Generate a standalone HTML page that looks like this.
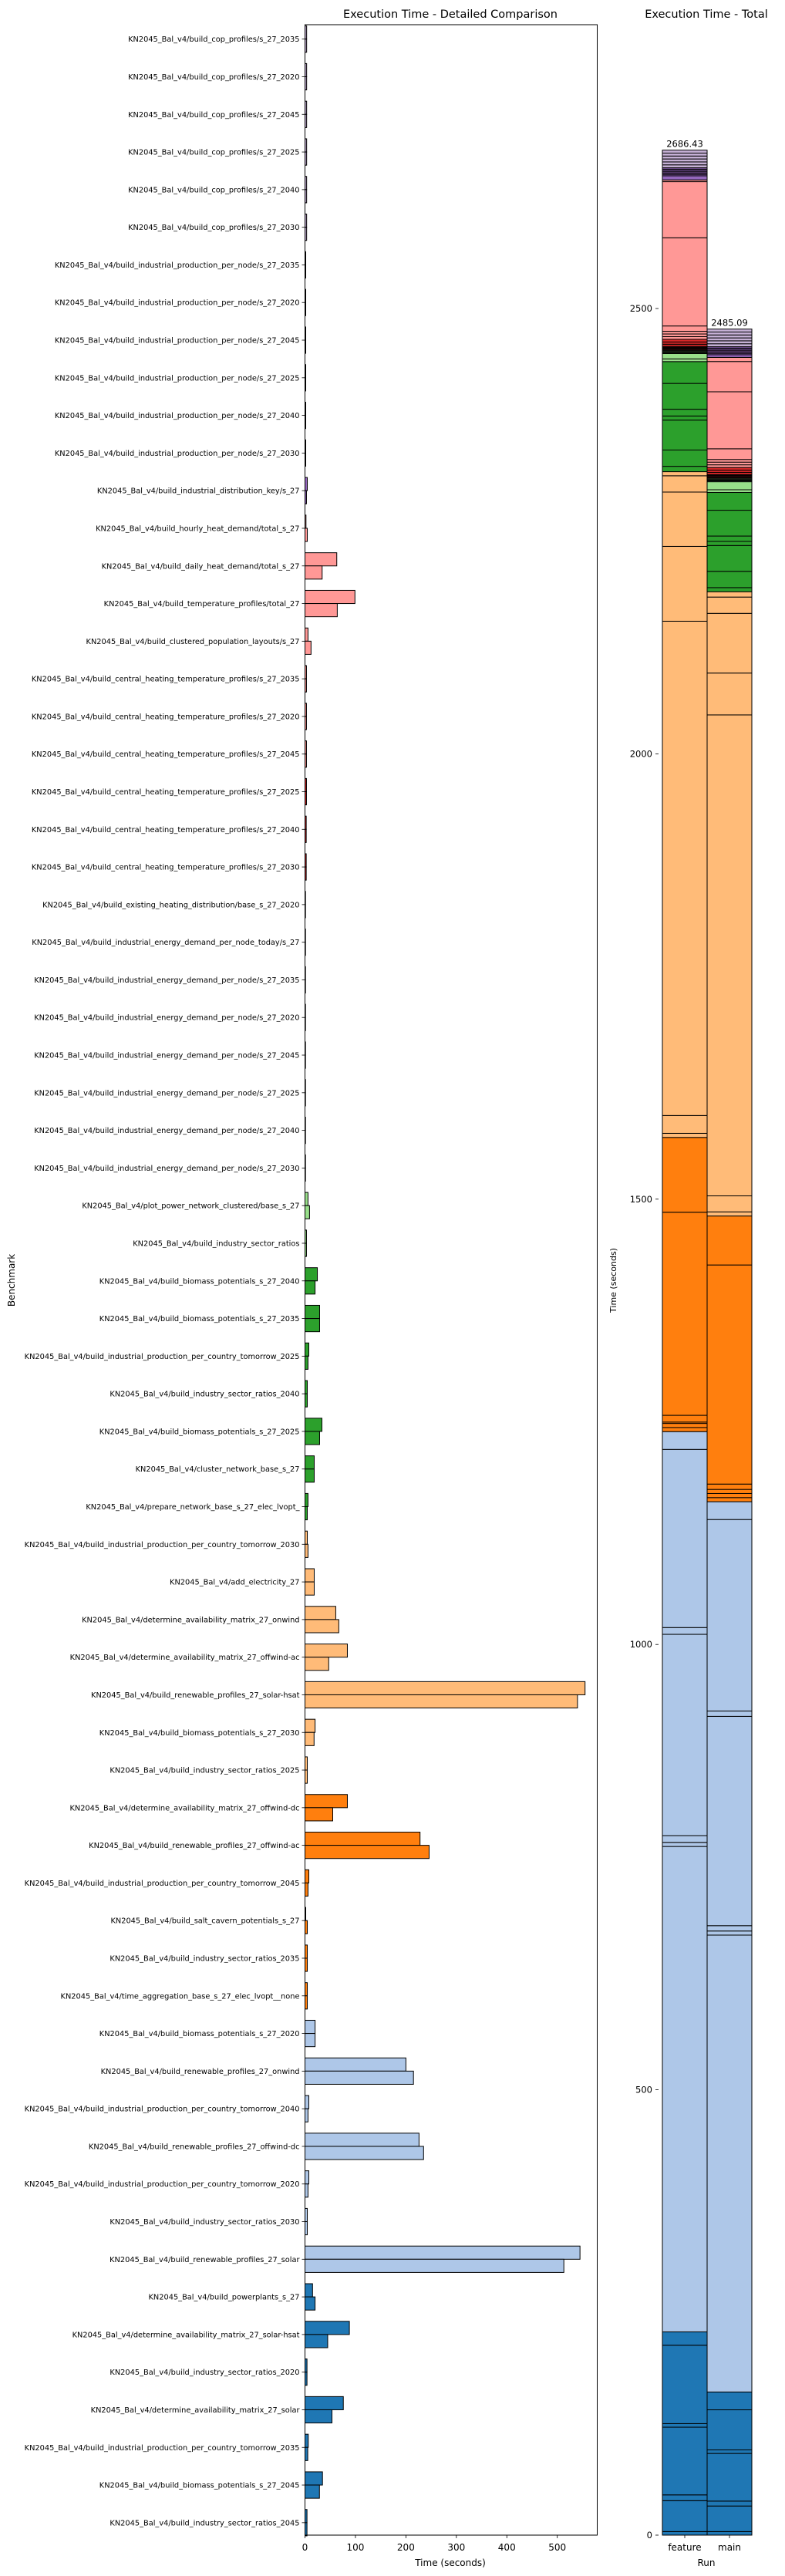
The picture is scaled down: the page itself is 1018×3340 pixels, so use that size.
<!DOCTYPE html>
<html>
<head>
<meta charset="utf-8">
<style>
  html, body { margin: 0; padding: 0; background: #fff; }
  svg { display: block; font-family: "DejaVu Sans", "Liberation Sans", sans-serif; }
</style>
</head>
<body>
<svg id="chart" width="1018" height="3340" viewBox="0 0 1018 3340" xmlns="http://www.w3.org/2000/svg">
  <text x="584" y="23" font-size="14.5" text-anchor="middle">Execution Time - Detailed Comparison</text>
  <text x="916" y="23" font-size="14.5" text-anchor="middle">Execution Time - Total</text>
  <g id="left"></g>
  <g id="right"></g>
  <text x="584" y="3327" font-size="12" text-anchor="middle">Time (seconds)</text>
  <text x="19" y="1660" font-size="12" text-anchor="middle" transform="rotate(-90 19 1660)">Benchmark</text>
  <text x="799" y="1660" font-size="11" text-anchor="middle" transform="rotate(-90 799 1660)">Time (seconds)</text>
  <text x="916" y="3327" font-size="12" text-anchor="middle">Run</text>
</svg>
<script>
const categories = [
"KN2045_Bal_v4/build_cop_profiles/s_27_2035",
"KN2045_Bal_v4/build_cop_profiles/s_27_2020",
"KN2045_Bal_v4/build_cop_profiles/s_27_2045",
"KN2045_Bal_v4/build_cop_profiles/s_27_2025",
"KN2045_Bal_v4/build_cop_profiles/s_27_2040",
"KN2045_Bal_v4/build_cop_profiles/s_27_2030",
"KN2045_Bal_v4/build_industrial_production_per_node/s_27_2035",
"KN2045_Bal_v4/build_industrial_production_per_node/s_27_2020",
"KN2045_Bal_v4/build_industrial_production_per_node/s_27_2045",
"KN2045_Bal_v4/build_industrial_production_per_node/s_27_2025",
"KN2045_Bal_v4/build_industrial_production_per_node/s_27_2040",
"KN2045_Bal_v4/build_industrial_production_per_node/s_27_2030",
"KN2045_Bal_v4/build_industrial_distribution_key/s_27",
"KN2045_Bal_v4/build_hourly_heat_demand/total_s_27",
"KN2045_Bal_v4/build_daily_heat_demand/total_s_27",
"KN2045_Bal_v4/build_temperature_profiles/total_27",
"KN2045_Bal_v4/build_clustered_population_layouts/s_27",
"KN2045_Bal_v4/build_central_heating_temperature_profiles/s_27_2035",
"KN2045_Bal_v4/build_central_heating_temperature_profiles/s_27_2020",
"KN2045_Bal_v4/build_central_heating_temperature_profiles/s_27_2045",
"KN2045_Bal_v4/build_central_heating_temperature_profiles/s_27_2025",
"KN2045_Bal_v4/build_central_heating_temperature_profiles/s_27_2040",
"KN2045_Bal_v4/build_central_heating_temperature_profiles/s_27_2030",
"KN2045_Bal_v4/build_existing_heating_distribution/base_s_27_2020",
"KN2045_Bal_v4/build_industrial_energy_demand_per_node_today/s_27",
"KN2045_Bal_v4/build_industrial_energy_demand_per_node/s_27_2035",
"KN2045_Bal_v4/build_industrial_energy_demand_per_node/s_27_2020",
"KN2045_Bal_v4/build_industrial_energy_demand_per_node/s_27_2045",
"KN2045_Bal_v4/build_industrial_energy_demand_per_node/s_27_2025",
"KN2045_Bal_v4/build_industrial_energy_demand_per_node/s_27_2040",
"KN2045_Bal_v4/build_industrial_energy_demand_per_node/s_27_2030",
"KN2045_Bal_v4/plot_power_network_clustered/base_s_27",
"KN2045_Bal_v4/build_industry_sector_ratios",
"KN2045_Bal_v4/build_biomass_potentials_s_27_2040",
"KN2045_Bal_v4/build_biomass_potentials_s_27_2035",
"KN2045_Bal_v4/build_industrial_production_per_country_tomorrow_2025",
"KN2045_Bal_v4/build_industry_sector_ratios_2040",
"KN2045_Bal_v4/build_biomass_potentials_s_27_2025",
"KN2045_Bal_v4/cluster_network_base_s_27",
"KN2045_Bal_v4/prepare_network_base_s_27_elec_lvopt_",
"KN2045_Bal_v4/build_industrial_production_per_country_tomorrow_2030",
"KN2045_Bal_v4/add_electricity_27",
"KN2045_Bal_v4/determine_availability_matrix_27_onwind",
"KN2045_Bal_v4/determine_availability_matrix_27_offwind-ac",
"KN2045_Bal_v4/build_renewable_profiles_27_solar-hsat",
"KN2045_Bal_v4/build_biomass_potentials_s_27_2030",
"KN2045_Bal_v4/build_industry_sector_ratios_2025",
"KN2045_Bal_v4/determine_availability_matrix_27_offwind-dc",
"KN2045_Bal_v4/build_renewable_profiles_27_offwind-ac",
"KN2045_Bal_v4/build_industrial_production_per_country_tomorrow_2045",
"KN2045_Bal_v4/build_salt_cavern_potentials_s_27",
"KN2045_Bal_v4/build_industry_sector_ratios_2035",
"KN2045_Bal_v4/time_aggregation_base_s_27_elec_lvopt__none",
"KN2045_Bal_v4/build_biomass_potentials_s_27_2020",
"KN2045_Bal_v4/build_renewable_profiles_27_onwind",
"KN2045_Bal_v4/build_industrial_production_per_country_tomorrow_2040",
"KN2045_Bal_v4/build_renewable_profiles_27_offwind-dc",
"KN2045_Bal_v4/build_industrial_production_per_country_tomorrow_2020",
"KN2045_Bal_v4/build_industry_sector_ratios_2030",
"KN2045_Bal_v4/build_renewable_profiles_27_solar",
"KN2045_Bal_v4/build_powerplants_s_27",
"KN2045_Bal_v4/determine_availability_matrix_27_solar-hsat",
"KN2045_Bal_v4/build_industry_sector_ratios_2020",
"KN2045_Bal_v4/determine_availability_matrix_27_solar",
"KN2045_Bal_v4/build_industrial_production_per_country_tomorrow_2035",
"KN2045_Bal_v4/build_biomass_potentials_s_27_2045",
"KN2045_Bal_v4/build_industry_sector_ratios_2045"
];
const featureValues = [3.3,3.3,3.3,3.3,3.3,3.3, 1.5,1.5,1.5,1.5,1.5,1.5,4.6, 2,63,99,6,3,3,3, 3,2.5,2.5,1,1,1,1, 1,1,1,1,6,3, 24.5,29,7.6,4.6,33.6,18.3,6, 4.6,18.3,61,84,555,20,4.6, 84,228,7.6,1.5,4.6,4.6, 20,200,7.6,226,7.6,4.6,545, 15,88,4,76,6.5,34.7,4];
const mainValues = [3.3,3.3,3.3,3.3,3.3,3.3, 1.5,1.5,1.5,1.5,1.5,1.5,3, 4.6,34,64,12,3,3,3, 3,2.5,2.5,1,1,1,1, 1,1,1,1,9,3, 20,29,6,4.6,29,18.3,4.6, 6,18.3,67,47,540,18,4.6, 55,246,6,4.6,4.6,4.6, 20,215,6,235,6,4.6,513, 20,45,4,53.5,5.5,28.7,4];
const colorGroup = [9,9,9,9,9,9, 8,8,8,8,8,8,8, 7,7,7,7,7,7,7, 6,6,6,6,6,6,6, 5,5,5,5,5,5, 4,4,4,4,4,4,4, 3,3,3,3,3,3,3, 2,2,2,2,2,2, 1,1,1,1,1,1,1, 0,0,0,0,0,0,0];
const xTicks = [0,100,200,300,400,500];
const yTotalTicks = [0,500,1000,1500,2000,2500];
const runs = ["feature","main"];
const totalLabels = ["2686.43","2485.09"];

const palette = ["#1f77b4","#aec7e8","#ff7f0e","#ffbb78","#2ca02c","#98df8a","#d62728","#ff9896","#9467bd","#c5b0d5"];
const NS = "http://www.w3.org/2000/svg";
function mk(tag, attrs, parent) {
  const e = document.createElementNS(NS, tag);
  for (const k in attrs) e.setAttribute(k, attrs[k]);
  parent.appendChild(e);
  return e;
}
const L = {x0: 395.5, x1: 774.5, y0: 32, y1: 3287};
const xScale = v => L.x0 + v * 0.6544;
const yCenter = i => 50.7 + i * 48.79;
const barH = 17.1;
const left = document.getElementById('left');

categories.forEach((c, i) => {
  const cy = yCenter(i);
  const col = palette[colorGroup[i]];
  const f = mk('rect', {x: L.x0, y: cy - barH, width: xScale(featureValues[i]) - L.x0, height: barH, fill: col, stroke: '#000', 'stroke-width': 1}, left);
  
  
  const m = mk('rect', {x: L.x0, y: cy, width: xScale(mainValues[i]) - L.x0, height: barH, fill: col, stroke: '#000', 'stroke-width': 1}, left);
  
  
  const tk = mk('line', {x1: L.x0 - 4, x2: L.x0, y1: cy, y2: cy, stroke: '#000', 'stroke-width': 0.8}, left);
  
  
  const t = mk('text', {x: L.x0 - 7, y: cy + 3.5, 'font-size': 9.8, 'text-anchor': 'end'}, left);
  t.textContent = c;
  
  
});
const frame = mk('rect', {x: L.x0, y: L.y0, width: L.x1 - L.x0, height: L.y1 - L.y0, fill: 'none', stroke: '#000', 'stroke-width': 1}, left);


xTicks.forEach(v => {
  const x = xScale(v);
  const tk = mk('line', {x1: x, x2: x, y1: L.y1, y2: L.y1 + 4, stroke: '#000', 'stroke-width': 0.8}, left);
  
  
  const t = mk('text', {x: x, y: 3307, 'font-size': 12, 'text-anchor': 'middle'}, left);
  t.textContent = v;
  
  
});

const right = document.getElementById('right');
const yT = v => 3287 - v * 1.1548;
const colX = [859, 917];
const colW = 58;
[featureValues, mainValues].forEach((vals, r) => {
  let acc = 0;
  for (let i = categories.length - 1; i >= 0; i--) {
    const v = vals[i];
    const s = mk('rect', {x: colX[r], y: yT(acc + v), width: colW, height: yT(acc) - yT(acc + v), fill: palette[colorGroup[i]], stroke: '#000', 'stroke-width': 1}, right);
    
    
    acc += v;
  }
  const t = mk('text', {x: colX[r] + colW / 2, y: yT(acc) - 4, 'font-size': 11.5, 'text-anchor': 'middle'}, right);
  t.textContent = totalLabels[r];
  
  
  const tk = mk('line', {x1: colX[r] + colW / 2, x2: colX[r] + colW / 2, y1: 3287, y2: 3291, stroke: '#000', 'stroke-width': 0.8}, right);
  
  
  const lb = mk('text', {x: colX[r] + colW / 2, y: 3307, 'font-size': 12, 'text-anchor': 'middle'}, right);
  lb.textContent = runs[r];
  
  
});
yTotalTicks.forEach(v => {
  const y = yT(v);
  const tk = mk('line', {x1: 850, x2: 854, y1: y, y2: y, stroke: '#000', 'stroke-width': 0.8}, right);
  
  
  const t = mk('text', {x: 846, y: y + 4, 'font-size': 11.5, 'text-anchor': 'end'}, right);
  t.textContent = v;
  
  
});
</script>
</body>
</html>
